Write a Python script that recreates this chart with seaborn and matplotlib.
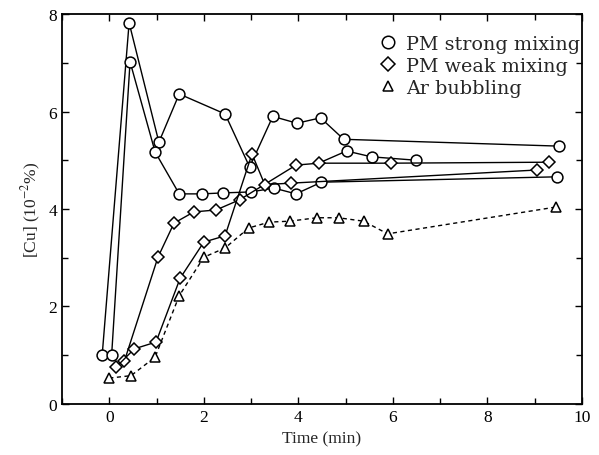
import matplotlib
matplotlib.use("Agg")
import matplotlib.pyplot as plt
from matplotlib.lines import Line2D
from matplotlib.font_manager import FontProperties
import seaborn as sns

# PM strong mixing (circles), two runs plus a short branch
strong1_t = [-0.15, 0.42, 1.05, 1.48, 2.45, 2.97, 3.46, 3.97, 4.47, 4.96, 9.51]
strong1_cu = [1.0, 7.82, 5.37, 6.36, 5.95, 4.86, 5.9, 5.76, 5.87, 5.43, 5.29]
strong2_t = [0.05, 0.44, 0.97, 1.48, 1.96, 2.41, 3.0, 3.48, 3.95, 4.49, 9.47]
strong2_cu = [1.0, 7.02, 5.17, 4.31, 4.31, 4.33, 4.35, 4.43, 4.31, 4.55, 4.66]
strong3_t = [4.43, 5.02, 5.55, 6.5]
strong3_cu = [4.94, 5.19, 5.07, 5.0]

# PM weak mixing (diamonds), two runs
weak1_t = [0.32, 1.03, 1.37, 1.79, 2.26, 2.76, 3.95, 4.43, 5.97, 9.3]
weak1_cu = [0.88, 3.01, 3.71, 3.94, 3.98, 4.19, 4.9, 4.94, 4.94, 4.96]
weak2_t = [0.15, 0.53, 0.99, 1.5, 2.0, 2.45, 3.02, 3.29, 3.84, 9.05]
weak2_cu = [0.76, 1.13, 1.27, 2.58, 3.32, 3.45, 5.13, 4.5, 4.53, 4.8]

# Ar bubbling (triangles, dashed)
ar_t = [0.0, 0.46, 0.97, 1.48, 2.0, 2.45, 2.95, 3.38, 3.82, 4.39, 4.85, 5.38, 5.89, 9.45]
ar_cu = [0.53, 0.58, 0.96, 2.22, 3.01, 3.2, 3.61, 3.73, 3.75, 3.82, 3.82, 3.75, 3.49, 4.04]

x_ticks = [0, 2, 4, 6, 8, 10]
y_ticks = [0, 2, 4, 6, 8]
legend_labels = ["PM strong mixing", "PM weak mixing", "Ar bubbling"]

sns.set_theme(style="ticks")
plt.rcParams["font.family"] = "serif"
plt.rcParams["font.serif"] = ["Liberation Serif", "DejaVu Serif"]
plt.rcParams["mathtext.fontset"] = "stix"

fig = plt.figure(figsize=(5.99, 4.56), dpi=100)
ax = fig.add_axes([0.1035, 0.112, 0.868, 0.855])

common = dict(ax=ax, color="black", sort=False, estimator=None, linewidth=1.0,
              markerfacecolor="white", markeredgecolor="black", markeredgewidth=1.1)

sns.lineplot(x=strong1_t, y=strong1_cu, marker="o", markersize=7.8, **common)
sns.lineplot(x=strong2_t, y=strong2_cu, marker="o", markersize=7.8, **common)
sns.lineplot(x=strong3_t, y=strong3_cu, marker="o", markersize=7.8,
             markevery=[1, 2, 3], **common)
sns.lineplot(x=weak1_t, y=weak1_cu, marker="D", markersize=6.2, **common)
sns.lineplot(x=weak2_t, y=weak2_cu, marker="D", markersize=6.2, **common)
sns.lineplot(x=ar_t, y=ar_cu, marker="^", markersize=6.5,
             linestyle=(0, (3, 2.5)), **common)

serif = FontProperties(family="Liberation Serif", size=12.5)
ax.set_xlim(-1, 10)
ax.set_ylim(0, 8)
ax.set_xticks(x_ticks)
ax.set_xticklabels([str(v) for v in x_ticks], fontproperties=serif)
ax.set_yticks(y_ticks)
ax.set_yticklabels([str(v) for v in y_ticks], fontproperties=serif)
ax.set_xticks(range(-1, 11, 1), minor=True)
ax.set_yticks(range(0, 9, 1), minor=True)
ax.tick_params(which="both", direction="in", top=True, right=True,
               width=1.0, colors="black")
ax.tick_params(which="major", length=5)
ax.tick_params(which="minor", length=4)
for s in ax.spines.values():
    s.set_linewidth(1.3)
    s.set_color("black")

ax.set_xlabel("Time (min)", fontproperties=serif)
ax.set_ylabel("[Cu] (10$^{-2}$%)", fontproperties=serif)

handles = [
    Line2D([], [], marker="o", linestyle="none", markersize=9,
           markerfacecolor="white", markeredgecolor="black", markeredgewidth=1.1),
    Line2D([], [], marker="D", linestyle="none", markersize=7,
           markerfacecolor="white", markeredgecolor="black", markeredgewidth=1.1),
    Line2D([], [], marker="^", linestyle="none", markersize=7,
           markerfacecolor="white", markeredgecolor="black", markeredgewidth=1.1),
]
ax.legend(handles, legend_labels, loc="upper right", frameon=False,
          prop=FontProperties(family="DejaVu Serif", size=13.8),
          handletextpad=0.25, labelspacing=0.2, handlelength=1.4,
          bbox_to_anchor=(1.03, 0.99))

fig.savefig("out.png", dpi=100)
